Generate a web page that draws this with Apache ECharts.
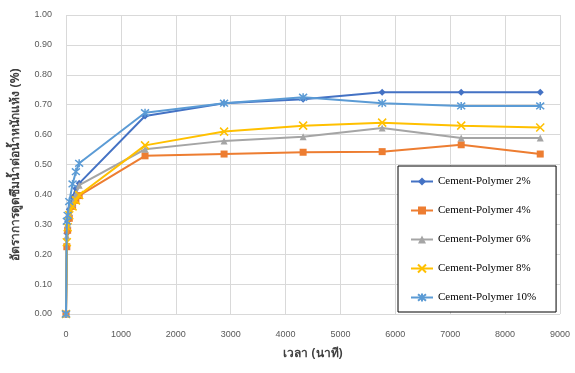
<!DOCTYPE html>
<html><head><meta charset="utf-8">
<script src="https://cdn.jsdelivr.net/npm/echarts@6/dist/echarts.min.js"></script>
<style>html,body{margin:0;padding:0;background:#fff}#c{width:575px;height:373px}</style>
</head><body><div id="c"></div>
<script>
const times = [0, 15, 30, 60, 120, 180, 240, 1440, 2880, 4320, 5760, 7200, 8640];
const seriesNames = ['Cement-Polymer 2%', 'Cement-Polymer 4%', 'Cement-Polymer 6%', 'Cement-Polymer 8%', 'Cement-Polymer 10%'];
const cp2  = [0, 0.27, 0.31, 0.35, 0.39, 0.42, 0.437, 0.662, 0.705, 0.718, 0.742, 0.742, 0.742];
const cp4  = [0, 0.225, 0.28, 0.32, 0.36, 0.38, 0.396, 0.529, 0.535, 0.541, 0.543, 0.566, 0.535];
const cp6  = [0, 0.26, 0.30, 0.34, 0.37, 0.40, 0.431, 0.551, 0.579, 0.593, 0.622, 0.589, 0.589];
const cp8  = [0, 0.24, 0.29, 0.33, 0.36, 0.38, 0.398, 0.564, 0.610, 0.630, 0.640, 0.630, 0.624];
const cp10 = [0, 0.31, 0.33, 0.376, 0.435, 0.476, 0.504, 0.673, 0.705, 0.725, 0.705, 0.696, 0.696];
const xTitle = 'เวลา (นาที)';
const yTitle = 'อัตราการดูดซึมน้ำต่อน้ำหนักแห้ง (%)';

const colors = ['#4472C4', '#ED7D31', '#A5A5A5', '#FFC000', '#5B9BD5'];
const symbols = [
  'diamond', 'rect', 'triangle',
  'path://M0,0L10,10M10,0L0,10',
  'path://M0,0L10,10M10,0L0,10M5,-1L5,11'
];
const sizes = [7, 7, 7, 8, 8];
const allData = [cp2, cp4, cp6, cp8, cp10];

const chart = echarts.init(document.getElementById('c'), null, {renderer: 'canvas'});
chart.setOption({
  animation: false,
  backgroundColor: '#fff',
  grid: {left: 66, right: 15, top: 15, bottom: 59},
  xAxis: {
    type: 'value', min: 0, max: 9000, interval: 1000,
    name: xTitle, nameLocation: 'middle', nameGap: 34,
    nameTextStyle: {fontFamily: 'Noto Sans, sans-serif', fontWeight: 'bold', fontSize: 12, color: '#404040'},
    axisLine: {show: false}, axisTick: {show: false},
    axisLabel: {color: '#595959', fontSize: 9, fontFamily: 'Liberation Sans', margin: 16,
      formatter: v => String(v)},
    splitLine: {show: true, lineStyle: {color: '#D9D9D9', width: 1}}
  },
  yAxis: {
    type: 'value', min: 0, max: 1, interval: 0.1,
    name: yTitle, nameLocation: 'middle', nameGap: 44, nameRotate: 90,
    nameTextStyle: {fontFamily: 'Noto Sans, sans-serif', fontWeight: 'bold', fontSize: 12, color: '#404040'},
    axisLine: {show: false}, axisTick: {show: false},
    axisLabel: {color: '#595959', fontSize: 9, fontFamily: 'Liberation Sans', margin: 14,
      formatter: v => v.toFixed(2)},
    splitLine: {show: true, lineStyle: {color: '#D9D9D9', width: 1}}
  },
  legend: {
    orient: 'vertical', left: 398, top: 166,
    width: 150,
    padding: [10, 20, 9, 12],
    itemGap: 18, itemWidth: 22, itemHeight: 10,
    borderColor: '#000', borderWidth: 1, backgroundColor: '#fff',
    textStyle: {fontFamily: 'Liberation Serif', fontSize: 11, color: '#000'},
    data: seriesNames
  },
  series: allData.map((d, i) => ({
    name: seriesNames[i],
    type: 'line',
    data: times.map((t, j) => [t, d[j]]),
    symbol: symbols[i],
    symbolSize: sizes[i],
    showSymbol: true,
    lineStyle: {color: colors[i], width: 2},
    itemStyle: {color: i >= 3 ? 'rgba(0,0,0,0)' : colors[i], borderColor: colors[i], borderWidth: i >= 3 ? 1.5 : 0},
    z: 2 + i
  }))
});
</script></body></html>
